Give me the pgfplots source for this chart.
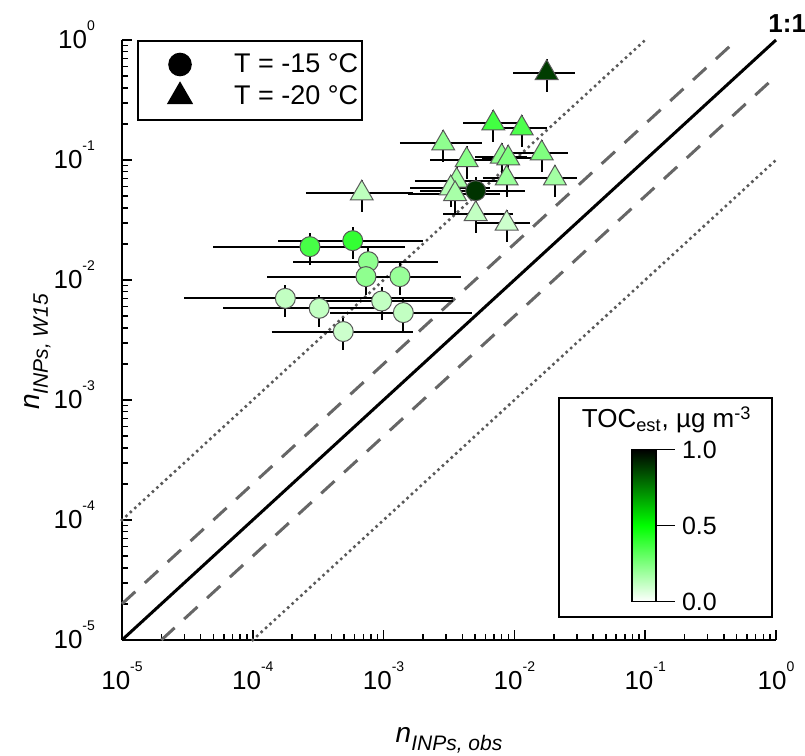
\documentclass[border=0pt]{standalone}
\usepackage{fontspec}
\setmainfont{Liberation Sans}
\usepackage{pgfplots}
\pgfplotsset{compat=1.18}
\pgfplotsset{colorbar shift/.style={xshift=0pt}}
\newcommand{\tl}[1]{10\smash{\raisebox{9pt}{\fontsize{7}{8}\selectfont #1}}}
\begin{document}
\begin{tikzpicture}
\begin{axis}[
  scale only axis, width=327pt, height=300pt,
  xmode=log, ymode=log, xmin=1e-5, xmax=1, ymin=1e-5, ymax=1,
  axis x line*=bottom, axis y line*=left,
  axis line style={line width=1pt, black},
  tick align=inside,
  major tick length=5pt, minor tick length=3pt,
  every tick/.style={black, line width=0.75pt},
  xtick={1e-5,1e-4,1e-3,1e-2,1e-1,1},
  ytick={1e-5,1e-4,1e-3,1e-2,1e-1,1},
  xticklabels={\tl{-5},\tl{-4},\tl{-3},\tl{-2},\tl{-1},\tl{0}},
  yticklabels={\tl{-5},\tl{-4},\tl{-3},\tl{-2},\tl{-1},\tl{0}},
  minor xtick={2e-5,3e-5,4e-5,5e-5,6e-5,7e-5,8e-5,9e-5,2e-4,3e-4,4e-4,5e-4,6e-4,7e-4,8e-4,9e-4,2e-3,3e-3,4e-3,5e-3,6e-3,7e-3,8e-3,9e-3,2e-2,3e-2,4e-2,5e-2,6e-2,7e-2,8e-2,9e-2,0.2,0.3,0.4,0.5,0.6,0.7,0.8,0.9},
  minor ytick={2e-5,3e-5,4e-5,5e-5,6e-5,7e-5,8e-5,9e-5,2e-4,3e-4,4e-4,5e-4,6e-4,7e-4,8e-4,9e-4,2e-3,3e-3,4e-3,5e-3,6e-3,7e-3,8e-3,9e-3,2e-2,3e-2,4e-2,5e-2,6e-2,7e-2,8e-2,9e-2,0.2,0.3,0.4,0.5,0.6,0.7,0.8,0.9},
  xticklabel style={font=\fontsize{13}{15}\selectfont, yshift=-12pt},
  yticklabel style={font=\fontsize{13}{15}\selectfont, xshift=-10pt},
  clip=false,
  colormap={wgk}{rgb255=(255,255,255) rgb255=(0,255,0) rgb255=(0,0,0)},
  point meta min=0, point meta max=1,
  colorbar,
  colorbar style={
    at={(parent axis.south east)}, anchor=south east,
    xshift=-60pt, yshift=19.2pt,
    width=12pt, height=76pt, scale only axis,
    ytick={0,0.5,1}, yticklabels={0.0,0.5,1.0},
    ytick pos=right, yticklabel pos=right,
    major tick length=9.5pt, tick align=outside,
    every tick/.style={black, line width=0.75pt},
    axis line style={line width=0.6pt},
    yticklabel style={font=\fontsize{12.5}{14}\selectfont},
  },
  legend style={at={(0.023,1.0)}, anchor=north west, draw=black, line width=1pt,
    font=\fontsize{13.5}{16}\selectfont, inner xsep=0pt, inner ysep=3.75pt, row sep=0pt,
    nodes={text height=11pt, text depth=3pt, inner ysep=1pt},
    /tikz/every odd column/.append style={column sep=12pt}},
  legend cell align=left,
  legend image code/.code={\path[draw=none,fill=none] (0pt,-5pt) rectangle (34pt,5pt); \draw[#1] plot coordinates {(21pt,0pt)};},
]
\addlegendimage{only marks, mark=*, mark size=5.4pt, fill=black, draw=black}
\addlegendentry{T = -15 °C}
\addlegendimage{only marks, mark=triangle*, mark size=6.6pt, fill=black, draw=black}
\addlegendentry{T = -20 °C}

% reference lines
\addplot[black, line width=1.5pt, forget plot] coordinates {(1e-5,1e-5) (1,1)};
\addplot[black!60, line width=1.5pt, dash pattern=on 9pt off 6.5pt, forget plot] coordinates {(1e-5,2e-5) (0.5,1)};
\addplot[black!60, line width=1.5pt, dash pattern=on 9pt off 6.5pt, forget plot] coordinates {(2e-5,1e-5) (1,0.5)};
\addplot[black!65, line width=1.8pt, line cap=round, dash pattern=on 0pt off 3pt, forget plot] coordinates {(1e-5,1e-4) (0.1,1)};
\addplot[black!65, line width=1.8pt, line cap=round, dash pattern=on 0pt off 3pt, forget plot] coordinates {(1e-4,1e-5) (1,0.1)};

% horizontal error bars
\addplot[black, line width=1pt, unbounded coords=jump, forget plot] table {
x y
9.82e-3 0.531
2.904e-2 0.531
nan nan
4.06e-3 0.2023
1.17e-2 0.2023
nan nan
7.76e-3 0.1837
1.766e-2 0.1837
nan nan
1.334e-3 0.1377
5.62e-3 0.1377
nan nan
2.265e-3 0.100
7.53e-3 0.100
nan nan
5.0e-3 0.1067
1.242e-2 0.1067
nan nan
5.62e-3 0.1033
1.396e-2 0.1033
nan nan
9.82e-3 0.1138
2.576e-2 0.1138
nan nan
1.205e-2 7.03e-2
3.01e-2 7.03e-2
nan nan
5.75e-3 7.03e-2
1.57e-2 7.03e-2
nan nan
1.738e-3 6.73e-2
8.47e-3 6.73e-2
nan nan
1.592e-3 5.81e-2
6.5e-3 5.81e-2
nan nan
1.538e-3 5.21e-2
7.76e-3 5.21e-2
nan nan
2.55e-4 5.27e-2
1.679e-3 5.27e-2
nan nan
2.858e-3 3.55e-2
9.82e-3 3.55e-2
nan nan
5.15e-3 2.96e-2
1.315e-2 2.96e-2
nan nan
1.897e-3 5.55e-2
1.205e-2 5.55e-2
nan nan
4.99e-5 1.897e-2
1.459e-3 1.897e-2
nan nan
1.567e-4 2.128e-2
1.991e-3 2.128e-2
nan nan
2.042e-4 1.422e-2
2.618e-3 1.422e-2
nan nan
1.291e-4 1.067e-2
3.88e-3 1.067e-2
nan nan
2.296e-4 1.067e-2
3.52e-3 1.067e-2
nan nan
2.98e-5 7.03e-3
3.41e-3 7.03e-3
nan nan
5.94e-5 5.81e-3
9.38e-4 5.81e-3
nan nan
3.27e-4 6.68e-3
3.41e-3 6.68e-3
nan nan
3.89e-4 5.35e-3
4.71e-3 5.35e-3
nan nan
1.393e-4 3.72e-3
1.687e-3 3.72e-3
};

% T = -20 C (triangles)
\addplot[scatter, only marks, mark=triangle*, mark size=6.6pt, point meta=explicit,
  scatter/use mapped color={draw=black!65, fill=mapped color}, mark options={line width=0.5pt},
  forget plot,
  error bars/.cd, y dir=both, y explicit relative, error bar style={black, line width=1pt}, error mark=none]
  table[x=x, y=y, meta=c, y error=e] {
x y c e
1.766e-2 0.531 0.88 0.3
6.90e-3 0.2023 0.37 0.3
1.138e-2 0.1837 0.35 0.3
2.858e-3 0.1377 0.22 0.3
4.315e-3 0.100 0.23 0.3
8.00e-3 0.1067 0.22 0.3
8.97e-3 0.1033 0.25 0.3
1.618e-2 0.1138 0.25 0.3
2.042e-2 7.03e-2 0.18 0.3
8.73e-3 7.03e-2 0.20 0.3
3.62e-3 6.73e-2 0.18 0.3
3.26e-3 5.81e-2 0.15 0.3
3.52e-3 5.21e-2 0.17 0.3
6.81e-4 5.27e-2 0.13 0.3
5.06e-3 3.55e-2 0.12 0.3
8.73e-3 2.96e-2 0.10 0.3
};

% T = -15 C (circles)
\addplot[scatter, only marks, mark=*, mark size=5pt, point meta=explicit,
  scatter/use mapped color={draw=black!65, fill=mapped color}, mark options={line width=0.5pt},
  forget plot,
  error bars/.cd, y dir=both, y explicit relative, error bar style={black, line width=1pt}, error mark=none]
  table[x=x, y=y, meta=c, y error=e] {
x y c e
5.06e-3 5.55e-2 0.90 0.3
2.735e-4 1.897e-2 0.36 0.3
5.81e-4 2.128e-2 0.40 0.3
7.64e-4 1.422e-2 0.22 0.3
7.33e-4 1.067e-2 0.22 0.3
1.334e-3 1.067e-2 0.20 0.3
1.774e-4 7.03e-3 0.12 0.3
3.22e-4 5.81e-3 0.12 0.3
9.66e-4 6.68e-3 0.12 0.3
1.416e-3 5.35e-3 0.12 0.3
4.92e-4 3.72e-3 0.10 0.3
};

\node[font=\bfseries\fontsize{13}{14}\selectfont, anchor=south west, inner sep=0pt, xshift=-4pt, yshift=3.5pt] at (rel axis cs:1,1) {1:1};
\draw[line width=1pt] (rel axis cs:0.668,0.0388) rectangle (rel axis cs:0.9935,0.403);
\node[font=\fontsize{13}{15}\selectfont] at (rel axis cs:0.833,0.367) {TOC\textsubscript{est}, µg m\textsuperscript{-3}};
\node[anchor=base, inner sep=0pt] at ([yshift=-51pt]rel axis cs:0.5,0) {\fontsize{14}{16}\selectfont\textit{n}\raisebox{-4pt}{\fontsize{10.5}{12}\selectfont\textit{INPs, obs}}};
\node[anchor=base, inner sep=0pt, rotate=90] at ([xshift=-41pt]rel axis cs:0,0.48) {\fontsize{14}{16}\selectfont\textit{n}\raisebox{-4pt}{\fontsize{10.5}{12}\selectfont\textit{INPs, W15}}};
\end{axis}
\pgfresetboundingbox
\path[use as bounding box] ([xshift=-61pt,yshift=-58pt]current axis.south west) rectangle ([xshift=14.5pt,yshift=20pt]current axis.north east);
\end{tikzpicture}
\end{document}
